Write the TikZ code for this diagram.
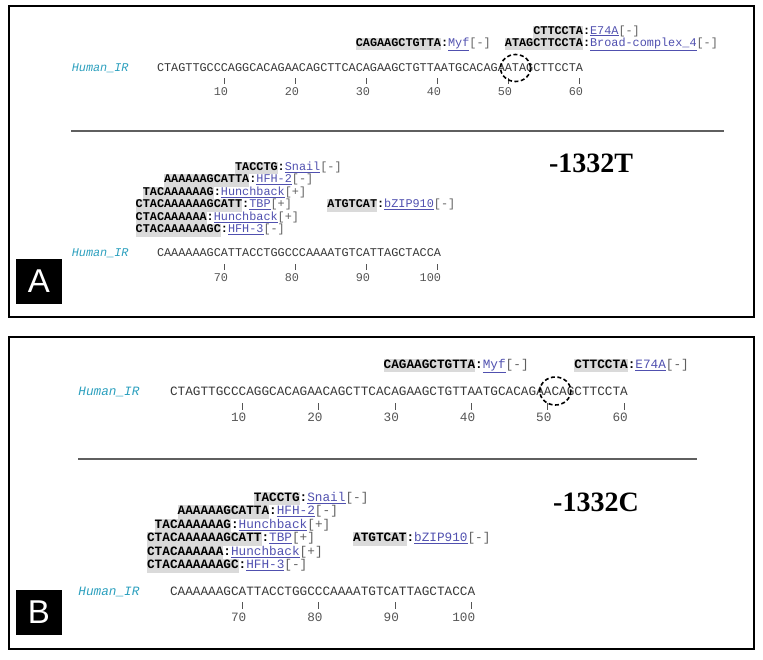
\documentclass[tikz,border=0pt]{standalone}
\usepackage{fontspec}
\setmainfont{Liberation Serif}
\setmonofont{Liberation Mono}
\newfontfamily\labelfont{Liberation Sans}
\definecolor{hlgray}{RGB}{218,218,218}
\definecolor{seqgray}{RGB}{55,55,55}
\definecolor{tickgray}{RGB}{85,85,85}
\definecolor{hirteal}{RGB}{45,160,190}
\definecolor{facblue}{RGB}{80,80,175}
\definecolor{brk}{RGB}{95,95,95}
\definecolor{rulegray}{RGB}{95,95,95}
\newcommand{\hlseq}[1]{{\setlength{\fboxsep}{0pt}\colorbox{hlgray}{\strut\textbf{#1}}}}
\newcommand{\fac}[2]{\textbf{:}\textcolor{facblue}{\underline{#1}}\textcolor{brk}{[#2]}}
\newcommand{\ann}[4]{\node[ann] (#1) at ({\xo+(#2-1)*\cw},#3) {#4};}
\begin{document}
\begin{tikzpicture}[x=1pt,y=-1pt,
  every node/.style={inner sep=0pt, outer sep=0pt},
  seqtxt/.style={font=\pf, text=seqgray, anchor=mid west},
  ann/.style={font=\pf, text=black, anchor=mid west},
  tickln/.style={draw=tickgray, line width=0.8pt},
  num/.style={font=\pf, text=tickgray, anchor=mid east},
  hir/.style={font=\pf\itshape, text=hirteal, anchor=mid west},
  sepline/.style={draw=rulegray, line width=1.6pt},
  framebox/.style={draw=black, line width=1.5pt},
  snp/.style={draw=black, line width=1.6pt, dash pattern=on 4pt off 2.5pt},
  biglabel/.style={font=\fontsize{28}{30}\selectfont\bfseries},
  panellabel/.style={fill=black, text=white, minimum width=46pt, minimum height=45pt, font=\labelfont\fontsize{33}{33}\selectfont}
]
\useasboundingbox (0,0) rectangle (763,659);

% ================= Panel A =================
\def\xo{157}\def\cw{7.1}
\def\pf{\ttfamily\fontsize{11.833}{12.4}\selectfont}
\draw[framebox] (9,6) rectangle (754,317);
\node[panellabel, anchor=north west] (labA) at (16,259) {A};
\node[hir] (hirA1) at ({\xo-12*\cw},69) {Human\_IR};
\node[seqtxt] (seqA1) at (\xo,69) {CTAGTTGCCCAGGCACAGAACAGCTTCACAGAAGCTGTTAATGCACAGAATAGCTTCCTA};
\foreach \k in {10,20,30,40,50,60}{
  \draw[tickln] ({\xo+(\k-0.5)*\cw},78) -- ({\xo+(\k-0.5)*\cw},84);
  \node[num] (nA\k) at ({\xo+\k*\cw},93.5) {\k};
}
\ann{aA1}{54}{32}{\hlseq{CTTCCTA}\fac{E74A}{-}}
\ann{aA2}{29}{44}{\hlseq{CAGAAGCTGTTA}\fac{Myf}{-}}
\ann{aA3}{50}{44}{\hlseq{ATAGCTTCCTA}\fac{Broad-complex\_4}{-}}
\draw[snp] ({\xo+50.5*\cw},68) ellipse [x radius=15, y radius=13.5];
\draw[sepline] (71,131) -- (724,131);
\node[biglabel] (mutA) at (591,163) {-1332T};
\ann{bA1}{12}{168}{\hlseq{TACCTG}\fac{Snail}{-}}
\ann{bA2}{2}{180.5}{\hlseq{AAAAAAGCATTA}\fac{HFH-2}{-}}
\ann{bA3}{-1}{193}{\hlseq{TACAAAAAAG}\fac{Hunchback}{+}}
\ann{bA4}{-2}{205.5}{\hlseq{CTACAAAAAAGCATT}\fac{TBP}{+}}
\ann{bA5}{25}{205.5}{\hlseq{ATGTCAT}\fac{bZIP910}{-}}
\ann{bA6}{-2}{218}{\hlseq{CTACAAAAAA}\fac{Hunchback}{+}}
\ann{bA7}{-2}{230.5}{\hlseq{CTACAAAAAAGC}\fac{HFH-3}{-}}
\node[hir] (hirA2) at ({\xo-12*\cw},254.5) {Human\_IR};
\node[seqtxt] (seqA2) at (\xo,254.5) {CAAAAAAGCATTACCTGGCCCAAAATGTCATTAGCTACCA};
\foreach \k/\n in {10/70,20/80,30/90,40/100}{
  \draw[tickln] ({\xo+(\k-0.5)*\cw},264) -- ({\xo+(\k-0.5)*\cw},270);
  \node[num] (nA\n) at ({\xo+\k*\cw},279) {\n};
}

% ================= Panel B =================
\def\xo{170}\def\cw{7.63}
\def\pf{\ttfamily\fontsize{12.717}{13.4}\selectfont}
\draw[framebox] (9,337) rectangle (754,649);
\node[panellabel, anchor=north west] (labB) at (16,590) {B};
\node[hir] (hirB1) at ({\xo-12*\cw},393) {Human\_IR};
\node[seqtxt] (seqB1) at (\xo,393) {CTAGTTGCCCAGGCACAGAACAGCTTCACAGAAGCTGTTAATGCACAGAACAGCTTCCTA};
\foreach \k in {10,20,30,40,50,60}{
  \draw[tickln] ({\xo+(\k-0.5)*\cw},403) -- ({\xo+(\k-0.5)*\cw},410);
  \node[num] (nB\k) at ({\xo+\k*\cw},419) {\k};
}
\ann{aB1}{29}{366}{\hlseq{CAGAAGCTGTTA}\fac{Myf}{-}}
\ann{aB2}{54}{366}{\hlseq{CTTCCTA}\fac{E74A}{-}}
\draw[snp] ({\xo+50.5*\cw},391) ellipse [x radius=15.5, y radius=14];
\draw[sepline] (78,459) -- (697,459);
\node[biglabel] (mutB) at (596,502) {-1332C};
\ann{bB1}{12}{499}{\hlseq{TACCTG}\fac{Snail}{-}}
\ann{bB2}{2}{512.5}{\hlseq{AAAAAAGCATTA}\fac{HFH-2}{-}}
\ann{bB3}{-1}{526}{\hlseq{TACAAAAAAG}\fac{Hunchback}{+}}
\ann{bB4}{-2}{539.5}{\hlseq{CTACAAAAAAGCATT}\fac{TBP}{+}}
\ann{bB5}{25}{539.5}{\hlseq{ATGTCAT}\fac{bZIP910}{-}}
\ann{bB6}{-2}{553}{\hlseq{CTACAAAAAA}\fac{Hunchback}{+}}
\ann{bB7}{-2}{566.5}{\hlseq{CTACAAAAAAGC}\fac{HFH-3}{-}}
\node[hir] (hirB2) at ({\xo-12*\cw},593) {Human\_IR};
\node[seqtxt] (seqB2) at (\xo,593) {CAAAAAAGCATTACCTGGCCCAAAATGTCATTAGCTACCA};
\foreach \k/\n in {10/70,20/80,30/90,40/100}{
  \draw[tickln] ({\xo+(\k-0.5)*\cw},602) -- ({\xo+(\k-0.5)*\cw},609);
  \node[num] (nB\n) at ({\xo+\k*\cw},619) {\n};
}
\end{tikzpicture}
\end{document}
